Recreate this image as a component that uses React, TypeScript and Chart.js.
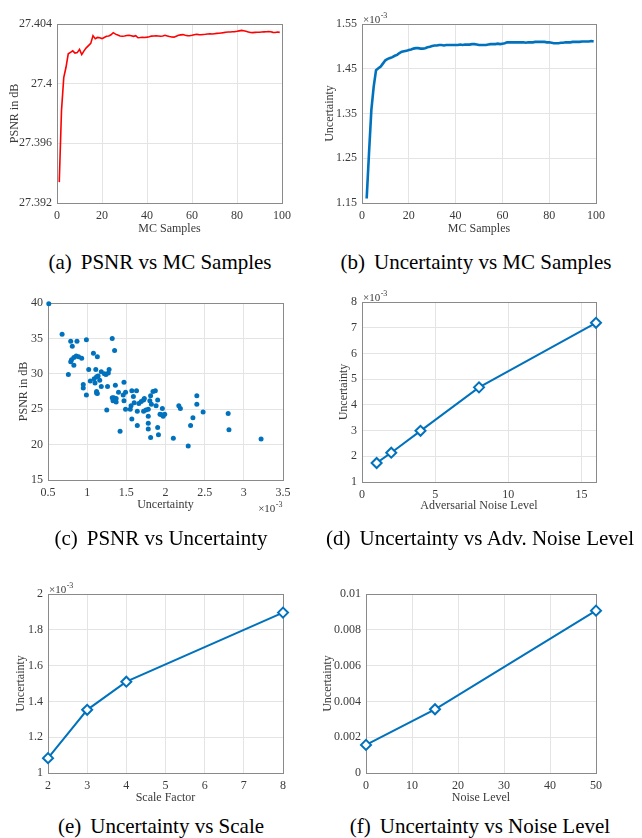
import React, { useEffect, useRef } from "react";
import { Chart, registerables } from "chart.js";

Chart.register(...registerables);

// ---------------- DATA ----------------
// (a) PSNR vs MC samples (samples 1..99)
const psnrVsSamples = [
  27.3934, 27.3982, 27.4004, 27.4011, 27.402, 27.4021, 27.4022, 27.40205, 27.40208, 27.4023,
  27.40195, 27.4022, 27.4024, 27.40255, 27.4027, 27.40322, 27.40302, 27.4031, 27.40308, 27.40302,
  27.4031, 27.40318, 27.4032, 27.40328, 27.40342, 27.40332, 27.40326, 27.4032, 27.40318, 27.4032,
  27.40323, 27.40324, 27.40321, 27.40317, 27.40322, 27.40308, 27.40309, 27.40311, 27.4031, 27.40312,
  27.40315, 27.40319, 27.4032, 27.40321, 27.4032, 27.40318, 27.4032, 27.40324, 27.4032, 27.40316,
  27.40313, 27.40312, 27.40318, 27.40324, 27.40327, 27.40329, 27.40325, 27.40322, 27.40321, 27.40324,
  27.40328, 27.40331, 27.40329, 27.40328, 27.4033, 27.40331, 27.40333, 27.40334, 27.40333, 27.40335,
  27.40337, 27.40338, 27.4034, 27.40342, 27.40345, 27.40346, 27.40346, 27.40348, 27.40349, 27.40351,
  27.40354, 27.40357, 27.40355, 27.40351, 27.40347, 27.40343, 27.40342, 27.40344, 27.40345, 27.40345,
  27.40346, 27.40347, 27.40348, 27.40349, 27.40348, 27.40344, 27.40343, 27.40346, 27.40344,
];
const psnrSampleStart = 1;

// (b) Uncertainty (x10^-3) vs MC samples (samples 2..99)
const uncVsSamples = [
  1.16, 1.262, 1.358, 1.41, 1.447, 1.451, 1.455, 1.462, 1.469, 1.472,
  1.474, 1.476, 1.479, 1.481, 1.485, 1.488, 1.489, 1.49, 1.492, 1.493,
  1.495, 1.496, 1.496, 1.495, 1.495, 1.496, 1.498, 1.499, 1.501, 1.502,
  1.502, 1.503, 1.503, 1.502, 1.503, 1.503, 1.503, 1.503, 1.503, 1.503,
  1.504, 1.503, 1.504, 1.504, 1.504, 1.505, 1.505, 1.504, 1.503, 1.503,
  1.503, 1.503, 1.504, 1.505, 1.505, 1.505, 1.506, 1.505, 1.506, 1.507,
  1.509, 1.509, 1.509, 1.509, 1.509, 1.509, 1.509, 1.509, 1.508, 1.509,
  1.509, 1.509, 1.51, 1.51, 1.51, 1.51, 1.51, 1.509, 1.509, 1.508,
  1.507, 1.507, 1.507, 1.508, 1.508, 1.509, 1.509, 1.509, 1.51, 1.51,
  1.51, 1.51, 1.511, 1.511, 1.511, 1.511, 1.512, 1.511,
];
const uncSampleStart = 2;

// (c) scatter: uncertainty (x10^-3) and PSNR
const scatterUnc = [
  0.51, 0.68, 0.79, 0.87, 0.99, 0.81, 1.32, 1.35, 0.76, 0.79,
  0.8, 0.83, 0.86, 0.89, 0.93, 0.83, 1.02, 1.08, 1.13, 1.11,
  0.95, 0.95, 0.99, 1.04, 1.09, 1.1, 1.12, 1.14, 1.16, 1.18,
  1.18, 1.22, 1.24, 1.27, 1.28, 1.26, 1.25, 1.12, 1.13, 1.12,
  1.32, 1.34, 1.33, 1.37, 1.36, 1.4, 1.37, 1.42, 1.46, 1.47,
  1.47, 1.49, 1.49, 1.55, 1.56, 1.57, 1.57, 1.59, 1.6, 1.63,
  1.64, 1.64, 1.66, 1.69, 1.72, 1.73, 1.72, 1.75, 1.78, 1.78,
  1.78, 1.78, 1.8, 1.81, 1.82, 1.81, 1.84, 1.87, 1.88, 1.9,
  1.9, 1.91, 1.93, 1.96, 1.97, 1.99, 1.95, 2.17, 2.19, 2.1,
  2.29, 2.32, 2.35, 2.4, 2.4, 2.48, 2.8, 2.81, 3.22,
];
const scatterPsnr = [
  39.9, 35.6, 34.6, 34.6, 34.8, 33.9, 35.0, 33.3, 29.9, 31.7,
  32.0, 32.3, 32.5, 32.4, 32.2, 31.2, 30.6, 32.9, 32.4, 30.6,
  28.5, 28.0, 27.0, 29.0, 29.3, 28.7, 29.6, 29.7, 29.1, 30.3,
  28.2, 30.0, 29.9, 30.1, 30.6, 28.2, 24.9, 27.3, 27.2, 27.5,
  26.6, 26.6, 26.2, 26.5, 28.4, 27.4, 26.0, 21.9, 27.0, 26.2,
  28.8, 27.4, 25.0, 25.0, 25.5, 23.6, 27.6, 26.8, 25.9, 27.6,
  24.7, 22.7, 25.8, 26.1, 26.3, 26.5, 24.7, 24.9, 25.0, 24.0,
  23.0, 22.2, 26.2, 26.9, 25.7, 21.0, 27.5, 27.6, 25.5, 26.3,
  22.4, 21.4, 24.3, 25.1, 24.0, 24.3, 24.2, 25.5, 25.1, 20.9,
  19.8, 22.7, 23.8, 26.9, 25.7, 24.6, 24.4, 22.1, 20.8,
];

// (d) adversarial noise level
const advNoiseLevels = [1, 2, 4, 8, 16];
const advUncertainty = [1.74, 2.14, 2.99, 4.68, 7.19];

// (e) scale factor
const scaleFactors = [2, 3, 4, 8];
const scaleUncertainty = [1.083, 1.353, 1.51, 1.896];

// (f) noise level
const noiseLevels = [0, 15, 50];
const noiseUncertainty = [0.00157, 0.00356, 0.00907];

// tick values / labels
const ticksA_x = [0, 20, 40, 60, 80, 100];
const ticksA_y = [27.392, 27.396, 27.4, 27.404];
const labelsA_y = ["27.392", "27.396", "27.4", "27.404"];
const ticksB_y = [1.15, 1.25, 1.35, 1.45, 1.55];
const labelsB_y = ["1.15", "1.25", "1.35", "1.45", "1.55"];
const ticksC_x = [0.5, 1, 1.5, 2, 2.5, 3, 3.5];
const ticksC_y = [15, 20, 25, 30, 35, 40];
const ticksD_x = [0, 5, 10, 15];
const ticksD_y = [1, 2, 3, 4, 5, 6, 7, 8];
const ticksE_x = [2, 3, 4, 5, 6, 7, 8];
const ticksE_y = [1, 1.2, 1.4, 1.6, 1.8, 2];
const labelsE_y = ["1", "1.2", "1.4", "1.6", "1.8", "2"];
const ticksF_x = [0, 10, 20, 30, 40, 50];
const ticksF_y = [0, 0.002, 0.004, 0.006, 0.008, 0.01];
const labelsF_y = ["0", "0.002", "0.004", "0.006", "0.008", "0.01"];

const captions = [
  ["(a)", "PSNR vs MC Samples"],
  ["(b)", "Uncertainty vs MC Samples"],
  ["(c)", "PSNR vs Uncertainty"],
  ["(d)", "Uncertainty vs Adv. Noise Level"],
  ["(e)", "Uncertainty vs Scale"],
  ["(f)", "Uncertainty vs Noise Level"],
];

// ---------------- STYLE ----------------
const FONT = '"Liberation Serif", "Times New Roman", serif';
const BLUE = "#0072BD";
const RED = "#ff0000";
const GRID = "#e4e4e4";
const AXIS = "#8a8a8a";
const TEXT = "#3a3a3a";
const TICK_SIZE = 12;
const TITLE_SIZE = 12;

type Box = { x: number; y: number; w: number; h: number };
type Area = { l: number; t: number; r: number; b: number };

type Spec = {
  box: Box;
  area: Area; // page coords
  yTitleX: number; // page coords
  xTitleY: number; // page coords
  xMin: number;
  xMax: number;
  yMin: number;
  yMax: number;
  xTicks: number[];
  yTicks: number[];
  xLabels?: string[];
  yLabels?: string[];
  xTitle: string;
  yTitle: string;
  exponent?: "top" | "bottom";
  datasets: any[];
};

const boxPlugin = {
  id: "matlabBox",
  beforeDatasetsDraw(chart: any) {
    const { ctx, chartArea: a } = chart;
    ctx.save();
    ctx.strokeStyle = AXIS;
    ctx.lineWidth = 1;
    ctx.strokeRect(
      Math.round(a.left) + 0.5,
      Math.round(a.top) + 0.5,
      Math.round(a.right - a.left),
      Math.round(a.bottom - a.top)
    );
    ctx.restore();
  },
  afterDraw(chart: any, _args: any, opts: any) {
    if (!opts || !opts.exponent) return;
    const { ctx, chartArea: a } = chart;
    ctx.save();
    ctx.fillStyle = TEXT;
    ctx.textBaseline = "alphabetic";
    const big = `11px ${FONT}`;
    const small = `8px ${FONT}`;
    ctx.font = big;
    const wBig = ctx.measureText("\u00d710").width;
    ctx.font = small;
    const wSmall = ctx.measureText("-3").width;
    let x: number, y: number;
    if (opts.exponent === "top") {
      x = a.left + 1;
      y = a.top - 1;
    } else {
      x = a.right - wBig - wSmall - 1;
      y = a.bottom + 32;
    }
    ctx.font = big;
    ctx.textAlign = "left";
    ctx.fillText("\u00d710", x, y);
    ctx.font = small;
    ctx.fillText("-3", x + wBig + 0.5, y - 5);
    ctx.restore();
  },
};

function buildConfig(spec: Spec): any {
  const { box, area } = spec;
  const left = area.l - box.x;
  const top = area.t - box.y;
  const right = box.w - (area.r - box.x);
  const bottom = box.h - (area.b - box.y);
  const lh = TITLE_SIZE * 1.2;
  const yTitlePad = Math.max(0, spec.yTitleX - box.x - lh / 2);
  const xTitlePad = Math.max(0, box.h - (spec.xTitleY - box.y) - lh / 2);
  return {
    type: "line",
    data: { datasets: spec.datasets },
    plugins: [boxPlugin],
    options: {
      responsive: false,
      animation: false,
      events: [],
      layout: { padding: { left: 0, top, right, bottom: 0 } },
      plugins: {
        legend: { display: false },
        tooltip: { enabled: false },
        matlabBox: { exponent: spec.exponent },
      },
      scales: {
        x: {
          type: "linear",
          min: spec.xMin,
          max: spec.xMax,
          afterBuildTicks: (s: any) => {
            s.ticks = spec.xTicks.map((v) => ({ value: v }));
          },
          afterFit: (s: any) => {
            s.height = bottom;
          },
          ticks: {
            autoSkip: false,
            maxRotation: 0,
            minRotation: 0,
            padding: 6,
            color: TEXT,
            font: { family: FONT, size: TICK_SIZE },
            callback: (v: number, i: number) =>
              spec.xLabels ? spec.xLabels[i] : String(spec.xTicks[i]),
          },
          grid: { color: GRID, drawTicks: false, lineWidth: 1 },
          border: { display: false },
          title: {
            display: true,
            text: spec.xTitle,
            color: TEXT,
            font: { family: FONT, size: TITLE_SIZE },
            padding: { top: 0, bottom: xTitlePad },
          },
        },
        y: {
          type: "linear",
          min: spec.yMin,
          max: spec.yMax,
          afterBuildTicks: (s: any) => {
            s.ticks = spec.yTicks.map((v) => ({ value: v }));
          },
          afterFit: (s: any) => {
            s.width = left;
          },
          ticks: {
            autoSkip: false,
            padding: 5,
            color: TEXT,
            font: { family: FONT, size: TICK_SIZE },
            callback: (v: number, i: number) =>
              spec.yLabels ? spec.yLabels[i] : String(spec.yTicks[i]),
          },
          grid: { color: GRID, drawTicks: false, lineWidth: 1 },
          border: { display: false },
          title: {
            display: true,
            text: spec.yTitle,
            color: TEXT,
            font: { family: FONT, size: TITLE_SIZE },
            padding: { top: yTitlePad, bottom: 0 },
          },
        },
      },
    },
  };
}

function Panel({ spec }: { spec: Spec }) {
  const ref = useRef<HTMLCanvasElement | null>(null);
  useEffect(() => {
    if (!ref.current) return;
    const chart = new Chart(ref.current, buildConfig(spec));
    return () => chart.destroy();
  }, []);
  return (
    <canvas
      ref={ref}
      width={spec.box.w}
      height={spec.box.h}
      style={{
        position: "absolute",
        left: spec.box.x,
        top: spec.box.y,
        width: spec.box.w,
        height: spec.box.h,
      }}
    />
  );
}

const diamondLine = (xs: number[], ys: number[]) => ({
  data: xs.map((x, i) => ({ x, y: ys[i] })),
  borderColor: BLUE,
  borderWidth: 2,
  pointStyle: "rectRot",
  pointRadius: 5,
  pointBorderWidth: 2,
  pointBorderColor: BLUE,
  pointBackgroundColor: "#ffffff",
  tension: 0,
  fill: false,
  clip: false,
});

const specs: Spec[] = [
  {
    box: { x: 0, y: 0, w: 321, h: 250 },
    area: { l: 57, t: 24, r: 282, b: 203 },
    yTitleX: 15,
    xTitleY: 229,
    xMin: 0,
    xMax: 100,
    yMin: 27.392,
    yMax: 27.404,
    xTicks: ticksA_x,
    yTicks: ticksA_y,
    yLabels: labelsA_y,
    xTitle: "MC Samples",
    yTitle: "PSNR in dB",
    datasets: [
      {
        data: psnrVsSamples.map((v, i) => ({ x: i + psnrSampleStart, y: v })),
        borderColor: RED,
        borderWidth: 1.6,
        pointRadius: 0,
        tension: 0,
        fill: false,
      },
    ],
  },
  {
    box: { x: 321, y: 0, w: 321, h: 250 },
    area: { l: 362, t: 24, r: 596, b: 203 },
    yTitleX: 330,
    xTitleY: 229,
    xMin: 0,
    xMax: 100,
    yMin: 1.15,
    yMax: 1.55,
    xTicks: ticksA_x,
    yTicks: ticksB_y,
    yLabels: labelsB_y,
    xTitle: "MC Samples",
    yTitle: "Uncertainty",
    exponent: "top",
    datasets: [
      {
        data: uncVsSamples.map((v, i) => ({ x: i + uncSampleStart, y: v })),
        borderColor: BLUE,
        borderWidth: 2.6,
        pointRadius: 0,
        tension: 0,
        fill: false,
      },
    ],
  },
  {
    box: { x: 0, y: 280, w: 321, h: 250 },
    area: { l: 48, t: 303, r: 283, b: 480 },
    yTitleX: 24,
    xTitleY: 505,
    xMin: 0.5,
    xMax: 3.5,
    yMin: 15,
    yMax: 40,
    xTicks: ticksC_x,
    yTicks: ticksC_y,
    xTitle: "Uncertainty",
    yTitle: "PSNR in dB",
    exponent: "bottom",
    datasets: [
      {
        data: scatterUnc.map((x, i) => ({ x, y: scatterPsnr[i] })),
        showLine: false,
        pointStyle: "circle",
        pointRadius: 2.5,
        pointBorderWidth: 0,
        pointBackgroundColor: BLUE,
        borderColor: BLUE,
        clip: false,
      },
    ],
  },
  {
    box: { x: 321, y: 280, w: 321, h: 250 },
    area: { l: 362, t: 302, r: 596, b: 482 },
    yTitleX: 344,
    xTitleY: 506,
    xMin: 0,
    xMax: 16,
    yMin: 1,
    yMax: 8,
    xTicks: ticksD_x,
    yTicks: ticksD_y,
    xTitle: "Adversarial Noise Level",
    yTitle: "Uncertainty",
    exponent: "top",
    datasets: [diamondLine(advNoiseLevels, advUncertainty)],
  },
  {
    box: { x: 0, y: 560, w: 321, h: 250 },
    area: { l: 48, t: 594, r: 283, b: 773 },
    yTitleX: 21,
    xTitleY: 798,
    xMin: 2,
    xMax: 8,
    yMin: 1,
    yMax: 2,
    xTicks: ticksE_x,
    yTicks: ticksE_y,
    yLabels: labelsE_y,
    xTitle: "Scale Factor",
    yTitle: "Uncertainty",
    exponent: "top",
    datasets: [diamondLine(scaleFactors, scaleUncertainty)],
  },
  {
    box: { x: 321, y: 560, w: 321, h: 250 },
    area: { l: 366, t: 594, r: 596, b: 773 },
    yTitleX: 328,
    xTitleY: 798,
    xMin: 0,
    xMax: 50,
    yMin: 0,
    yMax: 0.01,
    xTicks: ticksF_x,
    yTicks: ticksF_y,
    yLabels: labelsF_y,
    xTitle: "Noise Level",
    yTitle: "Uncertainty",
    datasets: [diamondLine(noiseLevels, noiseUncertainty)],
  },
];

const captionPos = [
  { cx: 160, cy: 262 },
  { cx: 476, cy: 262 },
  { cx: 161, cy: 538 },
  { cx: 480, cy: 538 },
  { cx: 161, cy: 826 },
  { cx: 480, cy: 826 },
];

export default function App() {
  return (
    <div
      style={{
        position: "absolute",
        left: 0,
        top: 0,
        width: 642,
        height: 838,
        background: "#ffffff",
        overflow: "hidden",
      }}
    >
      {specs.map((s, i) => (
        <Panel key={i} spec={s} />
      ))}
      {captions.map((c, i) => (
        <div
          key={"c" + i}
          style={{
            position: "absolute",
            left: captionPos[i].cx - 170,
            width: 340,
            top: captionPos[i].cy - 12,
            height: 24,
            lineHeight: "24px",
            textAlign: "center",
            fontFamily: FONT,
            fontSize: 21,
            color: "#000",
            whiteSpace: "nowrap",
          }}
        >
          <span style={{ marginRight: 9 }}>{c[0]}</span>
          {c[1]}
        </div>
      ))}
    </div>
  );
}
